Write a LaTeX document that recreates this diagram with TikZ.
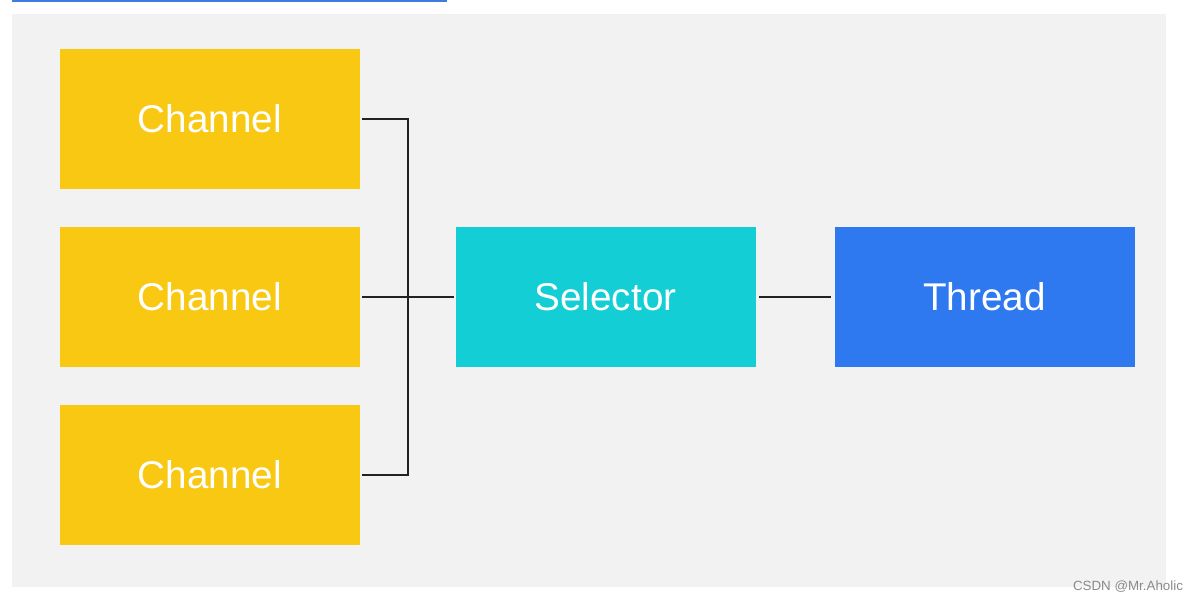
\documentclass[tikz,border=0pt]{standalone}
\usepackage{fontspec}
\setmainfont{Liberation Sans}
\usepackage{xcolor}
\usepackage{tikz}
\usetikzlibrary{positioning}

\definecolor{chanyellow}{HTML}{F9C812}
\definecolor{selcyan}{HTML}{14CED5}
\definecolor{thrblue}{HTML}{2F79F0}
\definecolor{bggray}{HTML}{F2F2F2}
\definecolor{wirecol}{HTML}{222222}
\definecolor{toplink}{HTML}{3F7BE0}
\definecolor{markgray}{HTML}{8A8A8A}

\tikzstyle{block} = [rectangle, minimum width=6cm, minimum height=2.8cm, text centered, text=white, font=\fontsize{22}{26}\selectfont, inner sep=0pt]
\tikzstyle{channel} = [block, fill=chanyellow]
\tikzstyle{selector} = [block, fill=selcyan]
\tikzstyle{thread} = [block, fill=thrblue]
\tikzstyle{wire} = [line width=1.1pt, draw=wirecol]

\begin{document}
\begin{tikzpicture}[node distance=3.56cm]
\useasboundingbox (0,0) rectangle (24,12.04);

% Background panel
\fill [bggray] (0.24,0.3) rectangle (23.32,11.76);
\draw [toplink, line width=0.04cm] (0.24,12.02) -- (8.94,12.02);

% Channels
\node (ch1) [channel] at (4.2,9.66) {Channel};
\node (ch2) [channel, below of=ch1] {Channel};
\node (ch3) [channel, below of=ch2] {Channel};

% Selector and thread
\node (sel) [selector, right of=ch2, xshift=4.35cm] {Selector};
\node (thr) [thread, right of=sel, xshift=4.02cm] {Thread};

% Junction
\coordinate (joint) at (8.16,6.1);

% Wires
\draw [wire, shorten <=0.04cm] (ch1.east) -| (joint);
\draw [wire, shorten <=0.04cm] (ch3.east) -| (joint);
\draw [wire, shorten <=0.04cm, shorten >=0.02cm] (ch2.east) -- (sel.west);
\draw [wire, shorten <=0.06cm, shorten >=0.06cm] (sel.east) -- (thr.west);

% Watermark
\node (mark) [text=markgray, font=\fontsize{7.6}{9}\selectfont] at (22.56,0.3) {CSDN @Mr.Aholic};

\end{tikzpicture}
\end{document}
